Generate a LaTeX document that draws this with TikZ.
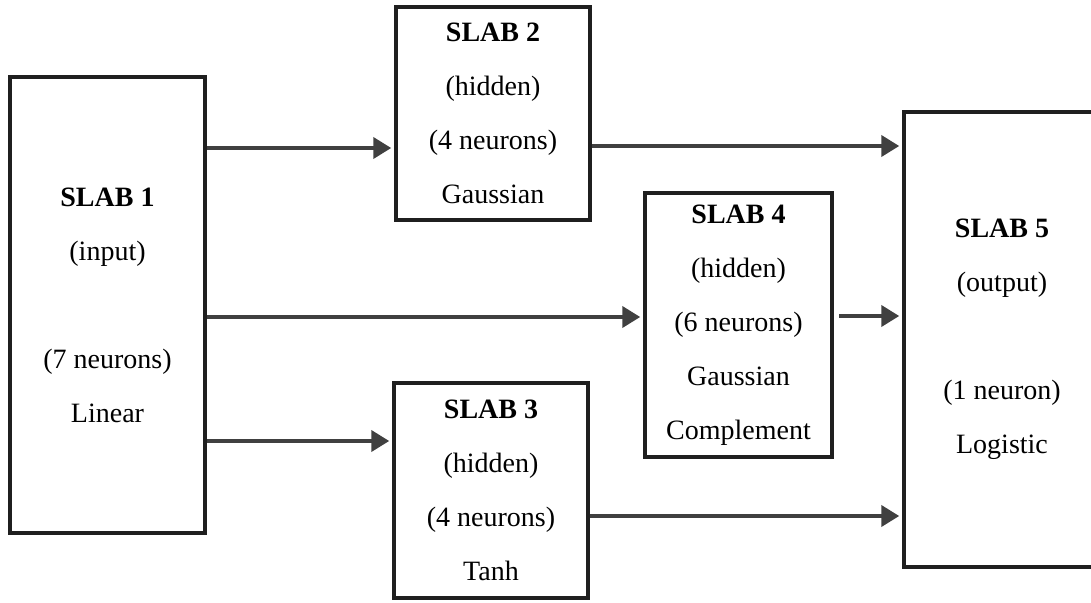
\documentclass[tikz,border=0pt]{standalone}
\usepackage{fontspec}
\setmainfont{Liberation Serif}
\usetikzlibrary{arrows.meta}
\begin{document}
\begin{tikzpicture}[x=1pt,y=-1pt,
  slab/.style={draw=black!88, line width=3.5pt, rectangle, inner sep=0pt, align=center,
    font=\fontsize{28}{54}\selectfont},
  conn/.style={draw=black!75, line width=4pt, -{Triangle[length=18pt,width=21pt]}, shorten >=3pt}]
\useasboundingbox (0,0) rectangle (1091,602);
\node[slab, minimum width=195pt, minimum height=456pt] (s1) at (107.5,305)
  {\textbf{SLAB 1}\\(input)\\\mbox{}\\(7 neurons)\\Linear};
\node[slab, minimum width=194pt, minimum height=213pt] (s2) at (493,113.5)
  {\textbf{SLAB 2}\\(hidden)\\(4 neurons)\\Gaussian};
\node[slab, minimum width=194pt, minimum height=215pt] (s3) at (491,490.5)
  {\textbf{SLAB 3}\\(hidden)\\(4 neurons)\\Tanh};
\node[slab, minimum width=187pt, minimum height=264pt] (s4) at (738.5,325)
  {\textbf{SLAB 4}\\(hidden)\\(6 neurons)\\Gaussian\\Complement};
\node[slab, minimum width=196pt, minimum height=455pt] (s5) at (1002,339.5)
  {\textbf{SLAB 5}\\(output)\\\mbox{}\\(1 neuron)\\Logistic};
\draw[conn] (s1.east |- 0,148) -- (s2.west |- 0,148);
\draw[conn] (s1.east |- 0,317) -- (s4.west |- 0,317);
\draw[conn] (s1.east |- 0,441) -- (s3.west |- 0,441);
\draw[conn] (s2.east |- 0,146) -- (s5.west |- 0,146);
\draw[conn, shorten <=5pt] (s4.east |- 0,316) -- (s5.west |- 0,316);
\draw[conn] (s3.east |- 0,516) -- (s5.west |- 0,516);
\end{tikzpicture}
\end{document}
